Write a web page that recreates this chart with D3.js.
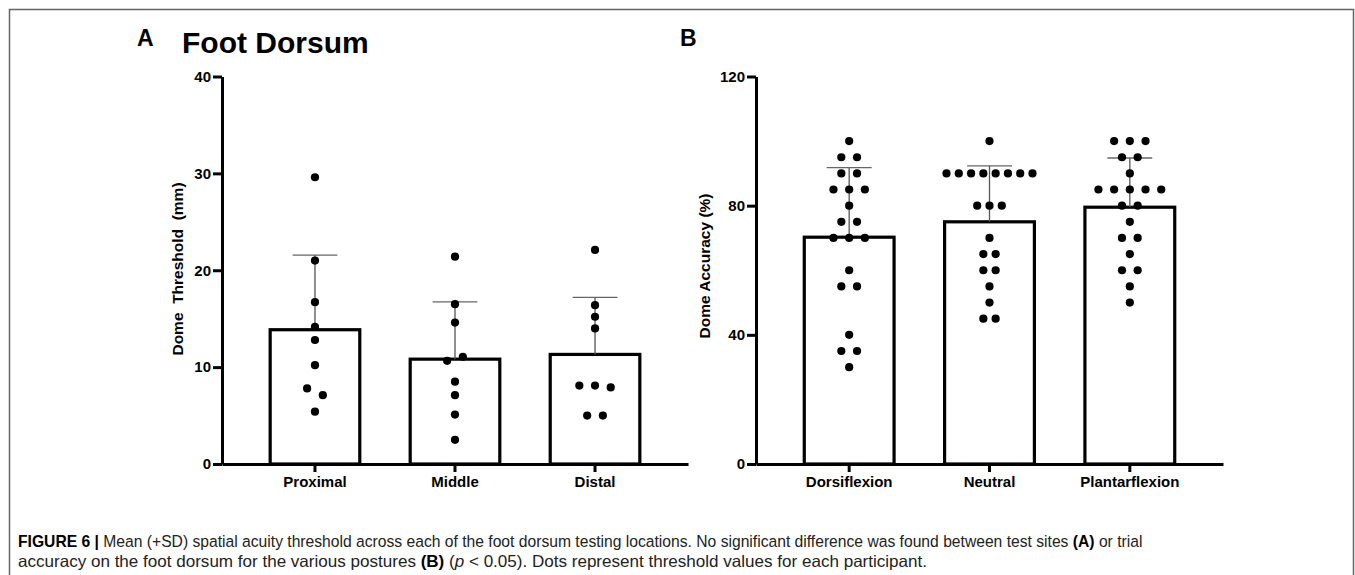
<!DOCTYPE html>
<html>
<head>
<meta charset="utf-8">
<script src="https://cdn.jsdelivr.net/npm/d3@7"></script>
<style>
  body { margin: 0; background: #fff; }
  svg { display: block; font-family: "Liberation Sans", Arial, sans-serif; }
  .axis text { font-weight: bold; font-size: 15px; fill: #000; }
  .axis path, .axis line { stroke: #000; stroke-width: 3; }
  .caption { font-family: "Liberation Sans Narrow", "Arial Narrow", "Liberation Sans", sans-serif; font-size: 16.5px; fill: #222; }
</style>
</head>
<body>
<svg width="1355" height="575"></svg>
<script>
// panel A: foot dorsum sites, threshold in mm
const sites = ["Proximal", "Middle", "Distal"]
const proximal = [29.6, 21.0, 16.7, 14.15, 12.8, 10.2, 7.8, 7.1, 5.4]
const middle = [21.4, 16.5, 14.6, 10.65, 11.06, 8.5, 7.1, 5.1, 2.5]
const distal = [22.1, 16.4, 15.2, 14.0, 8.1, 8.1, 7.9, 5.0, 5.0]
const ticksA = [0, 10, 20, 30, 40]

// panel B: postures, accuracy in %
const postures = ["Dorsiflexion", "Neutral", "Plantarflexion"]
const dorsiflexion = [100, 95, 95, 90, 90, 85, 85, 85, 80, 75, 75, 70, 70, 70, 60, 55, 55, 40, 35, 35, 30]
const neutral = [100, 90, 90, 90, 90, 90, 90, 90, 90, 80, 80, 80, 70, 65, 65, 60, 60, 55, 50, 45, 45]
const plantarflexion = [100, 100, 100, 95, 95, 90, 85, 85, 85, 85, 85, 80, 80, 75, 70, 70, 65, 60, 60, 55, 50]
const ticksB = [0, 40, 80, 120]

const svg = d3.select("svg")

// figure frame
svg.append("path")
  .attr("d", "M9.5,575 V9.5 H1353.5 V575")
  .attr("fill", "none")
  .attr("stroke", "#666")
  .attr("stroke-width", 1.5)

// draws one bar + SD + dot panel
const drawPanel = function (opts) {
  const g = svg.append("g")

  const x = d3.scaleBand()
    .domain(opts.cats)
    .range([opts.left, opts.right])
    .paddingInner(0.36)
    .paddingOuter(0.344)

  const y = d3.scaleLinear()
    .domain([0, opts.max])
    .range([464, 76.5])

  const rows = opts.cats.map((c, i) => ({ cat: c, vals: opts.series[i] }))

  // bars
  g.selectAll("rect.bar")
    .data(rows)
    .enter()
    .append("rect")
    .attr("x", d => x(d.cat))
    .attr("y", d => y(d3.mean(d.vals)))
    .attr("width", x.bandwidth())
    .attr("height", d => y(0) - y(d3.mean(d.vals)))
    .attr("fill", "#fff")
    .attr("stroke", "#000")
    .attr("stroke-width", 3.2)

  // SD whisker (upper only)
  rows.forEach(d => {
    const cx = x(d.cat) + x.bandwidth() / 2
    const m = d3.mean(d.vals)
    const top = m + d3.deviation(d.vals)
    g.append("line")
      .attr("x1", cx).attr("x2", cx)
      .attr("y1", y(m)).attr("y2", y(top))
      .attr("stroke", "#555").attr("stroke-width", 1.3)
    g.append("line")
      .attr("x1", cx - x.bandwidth() / 4).attr("x2", cx + x.bandwidth() / 4)
      .attr("y1", y(top)).attr("y2", y(top))
      .attr("stroke", "#666").attr("stroke-width", 1.3)
  })

  // dots, spread sideways when they would overlap
  rows.forEach(d => {
    const cx = x(d.cat) + x.bandwidth() / 2
    const pts = d.vals.map((v, i) => ({ v: v, i: i }))
      .sort((a, b) => b.v - a.v || a.i - b.i)
    const groups = []
    pts.forEach(p => {
      const last = groups[groups.length - 1]
      if (last && y(p.v) - y(last[0].v) < 9) last.push(p)
      else groups.push([p])
    })
    const biggest = d3.max(groups, gr => gr.length)
    const step = biggest > 1 ? Math.min(15.7, 86 / (biggest - 1)) : 15.7
    groups.forEach(gr => {
      gr.sort((a, b) => a.i - b.i)
      gr.forEach((p, k) => {
        p.x = cx + (k - (gr.length - 1) / 2) * step
      })
    })
    g.selectAll(null)
      .data(pts)
      .enter()
      .append("circle")
      .attr("cx", p => p.x)
      .attr("cy", p => y(p.v))
      .attr("r", 4.1)
      .attr("fill", "#000")
  })

  // axes
  const axisY = d3.axisLeft(y)
    .tickValues(opts.ticks)
    .tickSizeInner(9)
    .tickSizeOuter(0)
    .tickPadding(2)
  g.append("g")
    .attr("class", "axis")
    .attr("transform", `translate(${opts.left},0)`)
    .call(axisY)

  const axisX = d3.axisBottom(x)
    .tickSizeInner(8)
    .tickSizeOuter(0)
    .tickPadding(4)
  g.append("g")
    .attr("class", "axis")
    .attr("transform", "translate(0,464)")
    .call(axisX)

  // y-axis title
  g.append("text")
    .attr("transform", `translate(${opts.titleX},${opts.titleY}) rotate(-90)`)
    .attr("text-anchor", "middle")
    .attr("font-weight", "bold")
    .attr("font-size", "15.5px")
    .style("white-space", "pre")
    .text(opts.title)
}

drawPanel({
  cats: sites, series: [proximal, middle, distal], ticks: ticksA, max: 40,
  left: 222, right: 688, title: "Dome  Threshold  (mm)", titleX: 183, titleY: 269
})

drawPanel({
  cats: postures, series: [dorsiflexion, neutral, plantarflexion], ticks: ticksB, max: 120,
  left: 756, right: 1223, title: "Dome Accuracy (%)", titleX: 710, titleY: 266
})

// panel letters and heading
svg.append("text").attr("x", 137).attr("y", 46)
  .attr("font-weight", "bold").attr("font-size", "23px").text("A")
svg.append("text").attr("x", 182).attr("y", 53)
  .attr("font-weight", "bold").attr("font-size", "30px").text("Foot Dorsum")
svg.append("text").attr("x", 680).attr("y", 46)
  .attr("font-weight", "bold").attr("font-size", "23px").text("B")

// caption: squeeze each line horizontally so it spans the same width as the print
const fitLine = function (textSel, baseline, width) {
  const w = textSel.node().getComputedTextLength()
  const s = width / w
  textSel.attr("transform", `translate(18,${baseline}) scale(${s},1)`)
}

const cap1 = svg.append("text").attr("class", "caption")
cap1.append("tspan").attr("font-weight", "bold").attr("fill", "#000").text("FIGURE 6 | ")
cap1.append("tspan").text("Mean (+SD) spatial acuity threshold across each of the foot dorsum testing locations. No significant difference was found between test sites ")
cap1.append("tspan").attr("font-weight", "bold").attr("fill", "#000").text("(A)")
cap1.append("tspan").text(" or trial")
fitLine(cap1, 547, 1125)

const cap2 = svg.append("text").attr("class", "caption")
cap2.append("tspan").text("accuracy on the foot dorsum for the various postures ")
cap2.append("tspan").attr("font-weight", "bold").attr("fill", "#000").text("(B)")
cap2.append("tspan").text(" (")
cap2.append("tspan").attr("font-style", "italic").text("p")
cap2.append("tspan").text(" < 0.05). Dots represent threshold values for each participant.")
fitLine(cap2, 567, 910)
</script>
</body>
</html>
